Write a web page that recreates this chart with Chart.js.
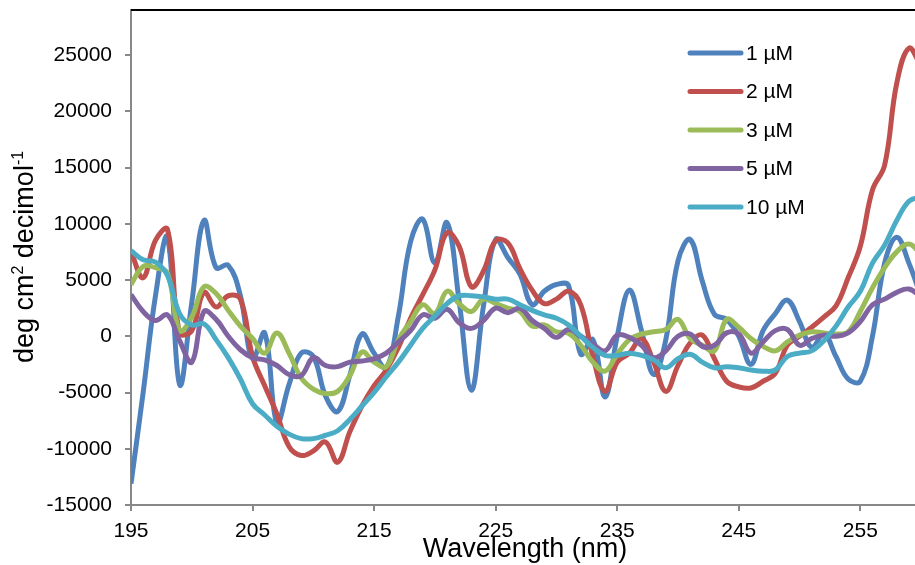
<!DOCTYPE html>
<html>
<head>
<meta charset="utf-8">
<script src="https://cdn.jsdelivr.net/npm/chart.js@4"></script>
<style>
  body { margin: 0; background: #fff; }
  #wrap { width: 915px; height: 565px; position: relative; }
</style>
</head>
<body>
<div id="wrap"><canvas id="cdChart"></canvas></div>
<script>
// wavelength grid (nm)
const wavelengths = [195, 196, 197, 198, 199, 200, 201, 202, 203, 204, 205, 206, 207, 208, 209, 210,
  211, 212, 213, 214, 215, 216, 217, 218, 219, 220, 221, 222, 223, 224, 225, 226, 227, 228, 229, 230,
  231, 232, 233, 234, 235, 236, 237, 238, 239, 240, 241, 242, 243, 244, 245, 246, 247, 248, 249, 250,
  251, 252, 253, 254, 255, 256, 257, 258, 259, 260];

const xTicks = [195, 205, 215, 225, 235, 245, 255];
const yTicks = [-15000, -10000, -5000, 0, 5000, 10000, 15000, 20000, 25000];

const seriesNames = ['1 µM', '2 µM', '3 µM', '5 µM', '10 µM'];
const seriesColors = ['#4F81BD', '#C0504D', '#9BBB59', '#8064A2', '#4BACC6'];

const conc1 = [-13100, -5000, 3500, 8800, -4300, 3000, 10300, 6100, 6300, 3600,
  -2000, 300, -7700, -4300, -1500, -1800, -5300, -6700, -3500, 200,
  -1500, -2800, 1800, 8400, 10400, 6500, 10100, 3100, -4800, 2700,
  8600, 7000, 5500, 2800, 4000, 4600, 4500, -1600, -300, -5400,
  0, 4100, 500, -3400, -300, 6700, 8600, 4900, 1950, 1500,
  0, -2500, 500, 2000, 3200, 1300, -1000, 200, -1800, -3800,
  -4000, 0, 6500, 8800, 6500, 3500];

const conc2 = [7500, 5200, 8500, 9500, 300, 500, 3900, 2600, 3600, 3300,
  -1800, -4400, -6900, -9800, -10600, -10200, -9400, -11200, -8500, -6200,
  -4400, -3000, -1000, 1600, 3700, 5900, 9200, 8000, 4400, 5800,
  8500, 8300, 6000, 4100, 2900, 3300, 4000, 2800, -1800, -4900,
  -2300, -1500, -200, -2300, -4900, -2600, -600, 100, -2000, -4000,
  -4500, -4600, -4000, -3300, -800, 0, 800, 1700, 2700, 5200,
  8000, 13000, 15200, 22500, 25600, 24000];

const conc3 = [4600, 6200, 6100, 5600, 500, 1700, 4400, 3800, 2300, 900,
  -200, -1500, 300, -1500, -3700, -4700, -5100, -4900, -3500, -1400,
  -2300, -2700, -300, 1300, 2800, 2000, 4000, 2900, 2200, 3300,
  2900, 2500, 2200, 900, 1000, 400, 250, -800, -2300, -3100,
  -1600, -300, 200, 400, 600, 1500, -200, -800, -1300, 1500,
  800, -200, -900, -1300, -500, 100, 400, 300, 200, 400,
  2200, 4300, 6100, 7500, 8200, 7300];

const conc5 = [3700, 2200, 1400, 1900, -400, -2300, 2200, 1500, 0, -1200,
  -1900, -2100, -2600, -3400, -3500, -1900, -2600, -2700, -2300, -2200,
  -2000, -1500, -500, 500, 1900, 1600, 2400, 1200, 700, 1400,
  2500, 2100, 2500, 1400, 700, -100, 600, 0, -700, -1300,
  100, -100, -800, -1900, -1300, 0, 200, -900, -800, 300,
  200, -1500, -500, 500, 600, -800, -200, 100, 0, 300,
  1300, 2800, 3300, 3900, 4200, 3500];

const conc10 = [7600, 6800, 6600, 5400, 2000, 1000, 1100, -300, -1900, -3800,
  -6000, -7000, -8000, -8700, -9100, -9100, -8800, -8400, -7400, -6200,
  -5000, -3600, -2300, -800, 700, 1800, 2900, 3600, 3600, 3500,
  3300, 3300, 2800, 2300, 1900, 1600, 1000, 0, -1000, -1700,
  -1700, -1500, -1700, -2100, -2800, -2000, -1600, -2300, -2800, -2700,
  -2800, -3000, -3100, -3000, -1800, -1500, -1300, -400, 900, 2600,
  4000, 6500, 8100, 10300, 12000, 12400];

const seriesValues = [conc1, conc2, conc3, conc5, conc10];

const xTitle = 'Wavelength (nm)';
const yTitleParts = [['deg cm', false], ['2', true], [' decimol', false], ['-1', true]];

const FONT = '"Liberation Sans", Arial, sans-serif';

// top border, legend and axis titles, drawn by hand like the Excel original
const decorPlugin = {
  id: 'decor',
  afterDraw(chart) {
    const ctx = chart.ctx;
    const area = chart.chartArea;
    ctx.save();

    ctx.strokeStyle = '#000';
    ctx.lineWidth = 2;
    ctx.beginPath();
    ctx.moveTo(area.left, area.top);
    ctx.lineTo(area.right, area.top);
    ctx.stroke();

    ctx.font = '21px ' + FONT;
    ctx.textBaseline = 'middle';
    ctx.textAlign = 'left';
    chart.data.datasets.forEach((ds, i) => {
      const y = 53 + i * 38.5;
      ctx.strokeStyle = ds.borderColor;
      ctx.lineWidth = 5;
      ctx.lineCap = 'round';
      ctx.beginPath();
      ctx.moveTo(690, y);
      ctx.lineTo(741, y);
      ctx.stroke();
      ctx.fillStyle = '#000';
      ctx.fillText(ds.label, 746, y + 1);
    });

    ctx.font = '27px ' + FONT;
    ctx.textAlign = 'center';
    ctx.textBaseline = 'alphabetic';
    ctx.fillStyle = '#000';
    ctx.fillText(xTitle, 525, 557);

    ctx.translate(33, 257);
    ctx.rotate(-Math.PI / 2);
    const big = '27px ' + FONT, small = '16px ' + FONT;
    let total = 0;
    yTitleParts.forEach(([t, sup]) => {
      ctx.font = sup ? small : big;
      total += ctx.measureText(t).width;
    });
    let x = -total / 2;
    ctx.textAlign = 'left';
    yTitleParts.forEach(([t, sup]) => {
      ctx.font = sup ? small : big;
      ctx.fillText(t, x, sup ? -10 : 0);
      x += ctx.measureText(t).width;
    });
    ctx.restore();
  }
};

const ctx = document.getElementById('cdChart').getContext('2d');
new Chart(ctx, {
  type: 'line',
  data: {
    datasets: seriesNames.map((name, i) => ({
      label: name,
      data: wavelengths.map((w, k) => ({ x: w, y: seriesValues[i][k] })),
      borderColor: seriesColors[i],
      borderWidth: 5,
      pointRadius: 0,
      tension: 0.4,
      fill: false,
      order: seriesNames.length - i
    }))
  },
  options: {
    responsive: true,
    maintainAspectRatio: false,
    animation: false,
    layout: { padding: { top: 10, right: 0, left: 0, bottom: 0 } },
    plugins: {
      legend: { display: false },
      tooltip: { enabled: false }
    },
    scales: {
      x: {
        type: 'linear',
        min: 195,
        max: 259.5,
        afterBuildTicks: s => { s.ticks = xTicks.map(v => ({ value: v })); },
        afterFit: s => { s.height = 60; s.paddingLeft = 0; s.paddingRight = 0; },
        ticks: {
          autoSkip: false,
          color: '#000',
          padding: 8,
          maxRotation: 0,
          callback: v => String(v),
          font: { family: FONT, size: 21 }
        },
        grid: { drawOnChartArea: false, tickLength: 6, color: '#888', lineWidth: 2 },
        border: { color: '#888', width: 2 }
      },
      y: {
        min: -15000,
        max: 29000,
        afterBuildTicks: s => { s.ticks = yTicks.map(v => ({ value: v })); },
        afterFit: s => { s.width = 131; s.paddingTop = 0; s.paddingBottom = 0; },
        ticks: {
          autoSkip: false,
          color: '#000',
          padding: 13,
          callback: v => String(v),
          font: { family: FONT, size: 21 }
        },
        grid: { drawOnChartArea: false, tickLength: 6, color: '#888', lineWidth: 2 },
        border: { color: '#888', width: 2 }
      }
    }
  },
  plugins: [decorPlugin]
});
</script>
</body>
</html>
